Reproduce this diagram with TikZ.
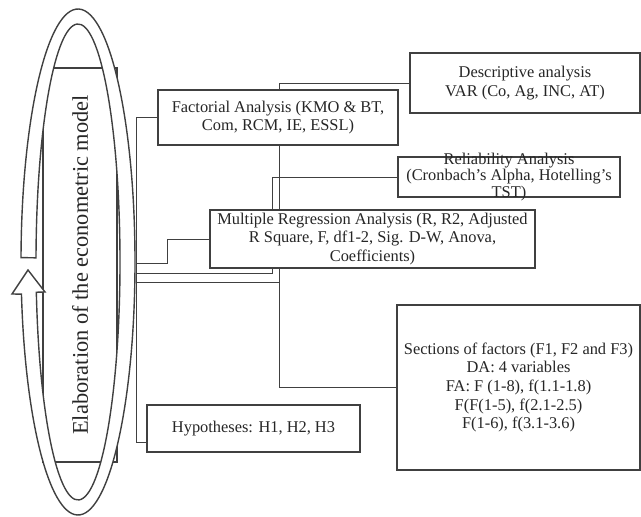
\documentclass[tikz,border=0pt]{standalone}
\usepackage{fontspec}
\setmainfont{Liberation Serif}
\usetikzlibrary{backgrounds,calc}

\begin{document}
\begin{tikzpicture}[
  x=0.5pt,
  y=-0.5pt,
  line width=0.7pt,
  box/.style={draw=black!75,fill=white,align=center,inner sep=1pt,text=black!85,
    font=\fontsize{8.2}{9.3}\selectfont},
  link/.style={draw=black!75},
  band/.style={draw=black!75,fill=white}
]
\useasboundingbox (0,0) rectangle (641,517);
% model box with the loop round it
\node[box,rotate=90,minimum width=197pt,minimum height=37pt,
  font=\fontsize{11.2}{13}\selectfont] (model) at (80,265) {Elaboration of the econometric model};
\coordinate (ctr) at (78,262);
\path[band] (ctr) ++(181:57 and 253)
  arc[start angle=181,end angle=532.7,x radius=57,y radius=253]
  -- (12,294) -- (28,270) -- (45,292)
  -- ($(ctr)+(172.7:42 and 238)$)
  arc[start angle=532.7,end angle=181,x radius=42,y radius=238] -- cycle;
% boxes
\node[box,minimum width=115pt,minimum height=30pt] (desc) at (525,83)
  {Descriptive analysis\\VAR (Co, Ag, INC, AT)};
\node[box,minimum width=120pt,minimum height=27.5pt] (fac) at (278,117.5)
  {Factorial Analysis (KMO \& BT,\\Com, RCM, IE, ESSL)};
\node[box,minimum width=111pt,minimum height=20pt,inner ysep=-3pt,
  font=\fontsize{8.2}{8.2}\selectfont] (rel) at (509,177)
  {Reliability Analysis\\(Cronbach's Alpha, Hotelling's\\TST)};
\node[box,minimum width=162.5pt,minimum height=29pt] (mult) at (372.5,239)
  {Multiple Regression Analysis (R, R2, Adjusted\\R Square, F, df1-2, Sig. D-W, Anova,\\Coefficients)};
\node[box,minimum width=121.5pt,minimum height=82.5pt] (sect) at (518.5,387.5)
  {Sections of factors (F1, F2 and F3)\\DA: 4 variables\\FA: F (1-8), f(1.1-1.8)\\F(F(1-5), f(2.1-2.5)\\F(1-6), f(3.1-3.6)};
\node[box,minimum width=106.5pt,minimum height=23.5pt] (hyp) at (253.5,428.5)
  {Hypotheses: H1, H2, H3};
% links
\coordinate (tb) at (136,442);
\coordinate (jm) at (136,263);
\coordinate (jr) at (136,273);
\coordinate (jd) at (136,282);
\coordinate (kd) at (279,282);
\begin{scope}[on background layer]
\draw[link] (fac.west) -| (tb) -- (tb -| hyp.west);
\draw[link] (jm) -- ++(31,0) |- (mult.west);
\draw[link] (jr) -- (272,273) |- (rel.west);
\draw[link] (jd) -- (kd) |- (desc.west);
\draw[link] (kd) |- (sect.west);
\end{scope}
\end{tikzpicture}
\end{document}
